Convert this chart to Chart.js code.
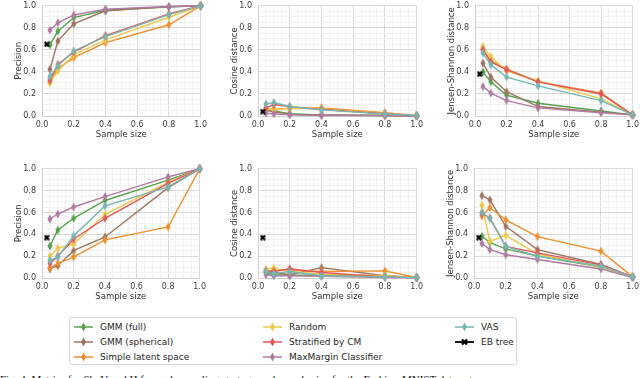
<!DOCTYPE html>
<html><head><meta charset="utf-8">
<script src="https://cdn.jsdelivr.net/npm/chart.js@4/dist/chart.umd.min.js"></script>
<style>
html,body{margin:0;padding:0;width:640px;height:378px;overflow:hidden;background:#fff;font-family:"DejaVu Sans",sans-serif;}
canvas.pane{position:absolute;}
#legend{position:absolute;left:69px;top:317px;width:448px;height:48px;border:1px solid #d6d6d6;border-radius:3px;box-sizing:border-box;background:#fff;}
.li{position:absolute;font-size:9px;color:#262626;white-space:nowrap;height:12px;line-height:12px;width:180px;}
.li svg{position:absolute;left:0;top:1px;}
.li span{position:absolute;left:26px;top:0;}
#caption{position:absolute;left:0;top:373px;font:11px "Liberation Serif",serif;line-height:12px;color:#111;white-space:nowrap;}
</style></head><body>
<div id="legend"></div>
<div id="caption">Fig. 4: Metrics for Sh, V and H for each sampling strategy and sample size for the Fashion-MNIST data set.</div>
<script>
// ---------- data ----------
const sampleSizes = [0.05, 0.1, 0.2, 0.4, 0.8, 1.0];
const seriesNames = ['GMM (full)', 'GMM (spherical)', 'Simple latent space', 'Random', 'Stratified by CM', 'MaxMargin Classifier', 'VAS'];
const seriesColors = ['#59a14f', '#9c755f', '#f28e2b', '#edc948', '#e15759', '#b07aa1', '#76b7b2'];
const ebTreeName = 'EB tree';
const ebTreeX = 0.03;
const ebTreeValues = [0.65, 0.04, 0.38, 0.37, 0.37, 0.37];
const yTitles = ['Precision', 'Cosine distance', 'Jensen-Shannon distance'];
const xTitle = 'Sample size';
const axisTicks = [0.0, 0.2, 0.4, 0.6, 0.8, 1.0];

// rows in seriesNames order
const precisionTop = [
  [0.645, 0.77, 0.893, 0.96, 0.99, 1.0],
  [0.423, 0.68, 0.837, 0.955, 0.99, 1.0],
  [0.31, 0.43, 0.53, 0.666, 0.828, 1.0],
  [0.30, 0.41, 0.556, 0.69, 0.896, 1.0],
  [0.325, 0.467, 0.58, 0.73, 0.926, 1.0],
  [0.78, 0.846, 0.917, 0.97, 0.994, 1.0],
  [0.36, 0.455, 0.59, 0.72, 0.92, 1.0]
];
const cosineTop = [
  [0.06, 0.045, 0.02, 0.01, 0.005, 0.0],
  [0.05, 0.04, 0.015, 0.01, 0.005, 0.0],
  [0.062, 0.06, 0.07, 0.074, 0.03, 0.003],
  [0.07, 0.055, 0.07, 0.065, 0.025, 0.003],
  [0.074, 0.104, 0.085, 0.06, 0.02, 0.004],
  [0.025, 0.02, 0.012, 0.005, 0.003, 0.0],
  [0.11, 0.122, 0.086, 0.056, 0.018, 0.006]
];
const jsTop = [
  [0.40, 0.31, 0.19, 0.116, 0.045, 0.01],
  [0.48, 0.353, 0.22, 0.086, 0.035, 0.01],
  [0.61, 0.50, 0.427, 0.31, 0.21, 0.01],
  [0.63, 0.54, 0.41, 0.32, 0.155, 0.01],
  [0.60, 0.49, 0.42, 0.31, 0.20, 0.01],
  [0.267, 0.208, 0.14, 0.074, 0.03, 0.01],
  [0.57, 0.466, 0.353, 0.273, 0.14, 0.01]
];
const precisionBottom = [
  [0.293, 0.438, 0.547, 0.71, 0.896, 1.0],
  [0.083, 0.112, 0.25, 0.376, 0.828, 1.0],
  [0.089, 0.133, 0.192, 0.349, 0.467, 1.0],
  [0.20, 0.272, 0.31, 0.583, 0.875, 1.0],
  [0.133, 0.20, 0.355, 0.547, 0.867, 1.0],
  [0.54, 0.586, 0.65, 0.745, 0.926, 1.0],
  [0.163, 0.19, 0.385, 0.66, 0.834, 1.0]
];
const cosineBottom = [
  [0.05, 0.03, 0.025, 0.025, 0.02, 0.003],
  [0.06, 0.05, 0.03, 0.095, 0.02, 0.003],
  [0.06, 0.07, 0.07, 0.06, 0.065, 0.005],
  [0.08, 0.09, 0.06, 0.035, 0.02, 0.003],
  [0.06, 0.06, 0.085, 0.05, 0.01, 0.003],
  [0.03, 0.02, 0.02, 0.015, 0.005, 0.002],
  [0.06, 0.04, 0.06, 0.02, 0.01, 0.005]
];
const jsBottom = [
  [0.382, 0.325, 0.266, 0.20, 0.10, 0.01],
  [0.754, 0.716, 0.473, 0.26, 0.124, 0.01],
  [0.57, 0.645, 0.533, 0.379, 0.246, 0.01],
  [0.666, 0.334, 0.39, 0.22, 0.10, 0.01],
  [0.59, 0.55, 0.29, 0.23, 0.12, 0.01],
  [0.316, 0.26, 0.213, 0.17, 0.083, 0.005],
  [0.60, 0.547, 0.29, 0.20, 0.11, 0.01]
];

// ---------- markers ----------
function thinDiamond(color) {
  const c = document.createElement('canvas'); c.width = 6; c.height = 10;
  const g = c.getContext('2d');
  g.fillStyle = color; g.beginPath();
  g.moveTo(3, 0.5); g.lineTo(5.5, 5); g.lineTo(3, 9.5); g.lineTo(0.5, 5); g.closePath(); g.fill();
  return c;
}
function xMarker() {
  const c = document.createElement('canvas'); c.width = 6; c.height = 6;
  const g = c.getContext('2d');
  g.strokeStyle = '#000'; g.lineWidth = 2.2; g.lineCap = 'butt';
  g.beginPath(); g.moveTo(0.8, 0.8); g.lineTo(5.2, 5.2); g.moveTo(5.2, 0.8); g.lineTo(0.8, 5.2); g.stroke();
  return c;
}
const diamondImgs = seriesColors.map(thinDiamond);
const xImg = xMarker();

// ---------- panels ----------
const FONT = '"DejaVu Sans", sans-serif';
const minorTicks = []; for (let i = 0; i <= 20; i++) minorTicks.push(i / 20);
const isMajor = v => axisTicks.some(t => Math.abs(t - v) < 1e-6);

function makePanel(L, R, T, B, rows, ebVal, yTitle) {
  const padTop = 8, padRight = 8, yW = 30, xH = 24;
  const left = L - yW, top = T - padTop, w = R + padRight - left, h = B + xH - top;
  const cv = document.createElement('canvas');
  cv.className = 'pane'; cv.width = w; cv.height = h;
  cv.style.left = left + 'px'; cv.style.top = top + 'px';
  cv.style.width = w + 'px'; cv.style.height = h + 'px';
  document.body.appendChild(cv);
  const N = rows.length;
  const datasets = rows.map((vals, i) => ({
    label: seriesNames[i],
    data: sampleSizes.map((x, j) => ({x, y: vals[j]})),
    borderColor: seriesColors[i], backgroundColor: seriesColors[i],
    borderWidth: 1.4, pointStyle: diamondImgs[i], pointRadius: 4,
    tension: 0, clip: false, order: N + 1 - i
  }));
  datasets.push({
    label: ebTreeName, data: [{x: ebTreeX, y: ebVal}],
    borderColor: '#000', backgroundColor: '#000', borderWidth: 1.5,
    pointStyle: xImg, pointRadius: 3, showLine: false, clip: false, order: 0
  });
  const gridColor = c => isMajor(c.tick.value) ? '#dadada' : '#f1f1f1';
  const tickCb = v => isMajor(v) ? Number(v).toFixed(1) : '';
  const common = {
    type: 'linear', min: 0, max: 1,
    afterBuildTicks: s => { s.ticks = minorTicks.map(v => ({value: v})); },
    grid: {drawTicks: false, color: gridColor, lineWidth: 1},
    border: {display: true, color: '#d2d2d2', width: 1}
  };
  new Chart(cv, {
    type: 'line',
    data: {datasets},
    options: {
      responsive: false, animation: false, events: [],
      layout: {autoPadding: false, padding: {top: padTop, right: padRight, left: 0, bottom: 0}},
      plugins: {legend: {display: false}, tooltip: {enabled: false}},
      scales: {
        x: Object.assign({}, common, {
          afterFit: s => { s.height = xH; },
          ticks: {autoSkip: false, maxRotation: 0, padding: 4, color: '#3d3d3d', font: {size: 8, family: FONT}, callback: tickCb},
          title: {display: true, text: xTitle, color: '#333', font: {size: 8.5, family: FONT}, padding: 0}
        }),
        y: Object.assign({}, common, {
          afterFit: s => { s.width = yW; },
          ticks: {autoSkip: false, padding: 6, color: '#3d3d3d', font: {size: 8, family: FONT}, callback: tickCb},
          title: {display: true, text: yTitle, color: '#333', font: {size: 8.5, family: FONT}, padding: {top: 2, bottom: 0}}
        })
      }
    }
  });
}

makePanel(42, 203, 3, 116, precisionTop, ebTreeValues[0], yTitles[0]);
makePanel(258, 419, 3, 116, cosineTop, ebTreeValues[1], yTitles[1]);
makePanel(475, 635, 3, 116, jsTop, ebTreeValues[2], yTitles[2]);
makePanel(42, 202, 166, 278, precisionBottom, ebTreeValues[3], yTitles[0]);
makePanel(258, 419, 166, 278, cosineBottom, ebTreeValues[4], yTitles[1]);
makePanel(474, 635, 166, 278, jsBottom, ebTreeValues[5], yTitles[2]);

// ---------- legend (matplotlib style, column-major, 3 columns) ----------
const legendItems = seriesNames.map((n, i) => ({name: n, color: seriesColors[i], eb: false}));
legendItems.push({name: ebTreeName, color: '#000', eb: true});
const colX = [4, 193, 385], rowY = [3, 18, 33];
const lg = document.getElementById('legend');
legendItems.forEach((it, k) => {
  const col = Math.floor(k / 3), row = k % 3;
  const d = document.createElement('div');
  d.className = 'li'; d.style.left = colX[col] + 'px'; d.style.top = rowY[row] + 'px';
  const marker = it.eb
    ? '<path d="M7 2.5 L12 7.5 M12 2.5 L7 7.5" stroke="#000" stroke-width="2.4"/>'
    : `<polygon points="9.5,0.5 12,5 9.5,9.5 7,5" fill="${it.color}"/>`;
  d.innerHTML = `<svg width="20" height="10"><line x1="0" y1="5" x2="19" y2="5" stroke="${it.color}" stroke-width="${it.eb ? 1.8 : 1.5}"/>${marker}</svg><span>${it.name}</span>`;
  lg.appendChild(d);
});
</script>
</body></html>
